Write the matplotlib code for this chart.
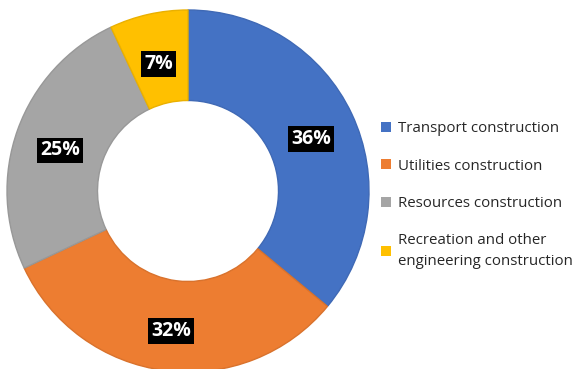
import matplotlib
matplotlib.use("Agg")
import matplotlib.pyplot as plt
from matplotlib.patches import Patch
import numpy as np

categories = ["Transport construction", "Utilities construction",
              "Resources construction", "Recreation and other\nengineering construction"]
shares = [36, 32, 25, 7]
colors = ["#4472C4", "#ED7D31", "#A5A5A5", "#FFC000"]
edges = ["#3F69B5", "#D9722C", "#989898", "#EAB000"]

plt.rcParams["font.family"] = ["Open Sans", "DejaVu Sans"]

fig = plt.figure(figsize=(5.75, 3.69), dpi=100)
ax = fig.add_axes([7 / 575, -3 / 369, 362 / 575, 362 / 369])

wedges, _ = ax.pie(shares, colors=colors, startangle=90, counterclock=False,
                   radius=1.0, wedgeprops=dict(width=0.5, linewidth=1.0))
for w, ec in zip(wedges, edges):
    w.set_edgecolor(ec)

# percentage labels on black boxes at the middle of each ring segment
total = sum(shares)
start = 90.0
for v in shares:
    mid = np.deg2rad(start - v / total * 360 / 2)
    r = 0.75
    ax.text(r * np.cos(mid), r * np.sin(mid) - 0.03, f"{v}%", ha="center", va="center",
            color="white", fontsize=14, fontweight="bold",
            bbox=dict(boxstyle="square,pad=0.15", fc="black", ec="none"))
    start -= v / total * 360

ax.set_xlim(-1, 1)
ax.set_ylim(-1, 1)
ax.axis("off")

handles = [Patch(facecolor=c, edgecolor="none") for c in colors]
leg = fig.legend(handles, categories, loc="center left",
                 bbox_to_anchor=(381 / 575, 1 - 195 / 369),
                 frameon=False, fontsize=10.8, handlelength=0.65, handleheight=0.65,
                 handletextpad=0.45, labelspacing=1.5, borderpad=0, borderaxespad=0)
for t in leg.get_texts():
    t.set_linespacing(1.5)
    t.set_color("#262626")

fig.savefig("out.png", dpi=100)
